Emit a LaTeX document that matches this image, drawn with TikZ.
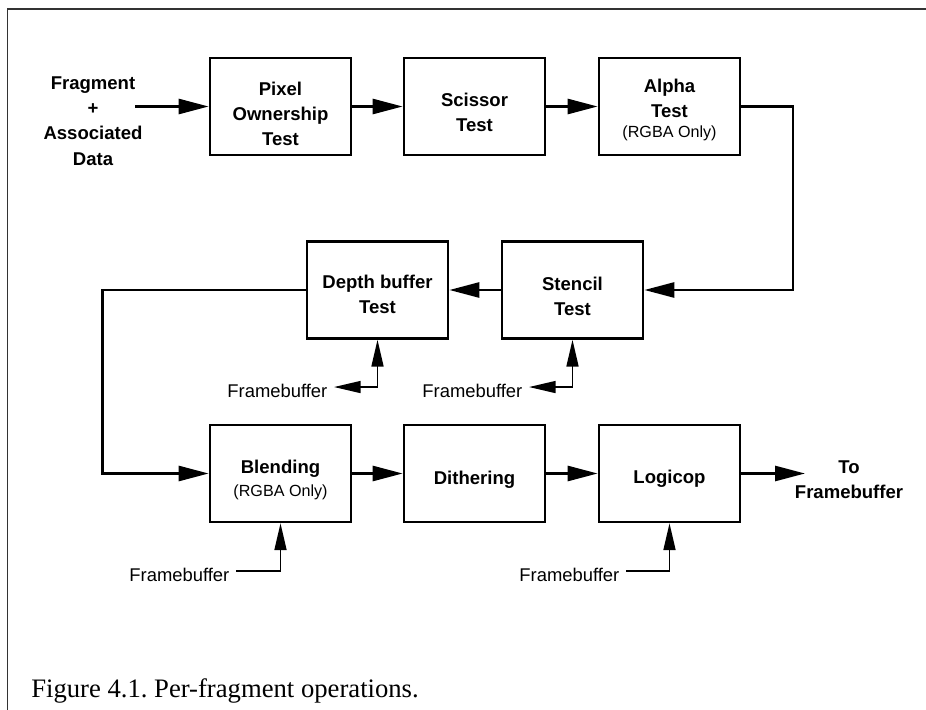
\documentclass[tikz,border=0pt]{standalone}
\usepackage{fontspec}
\setmainfont{Liberation Serif}
\newfontfamily\hv{Liberation Sans}
\usetikzlibrary{arrows.meta}
\frenchspacing
\begin{document}
\begin{tikzpicture}[x=0.75pt,y=-0.75pt,
  box/.style={draw, line width=2pt, minimum width=105.75pt, minimum height=72.75pt, inner sep=0pt},
  btxt/.style={font=\hv\bfseries\fontsize{13.9}{18.75}\selectfont, align=center, inner sep=0pt},
  fbl/.style={font=\hv\fontsize{13.8}{16}\selectfont, inner sep=0pt, outer sep=5pt, anchor=east},
  conn/.style={line width=2pt, -{Triangle[length=22.5pt,width=11.25pt]}},
  feed/.style={line width=1.1pt},
  ftip/.style={feed, -{Triangle[length=20pt,width=9pt]}},
  fboth/.style={feed, {Triangle[length=20pt,width=9pt]}-{Triangle[length=20pt,width=9pt]}},
  frame/.style={line width=1.2pt, black!80}
]
\fill[white] (0,0) rectangle (926,710);
\useasboundingbox (0,0) rectangle (926,710);
\newcommand{\rgba}{{\mdseries\fontsize{12.1}{14}\selectfont (RGBA Only)}}

% frame
\draw[frame] (7.5,710) -- (7.5,9) -- (926,9);

% row 1
\node[box] (pix) at (280.5,106.5) {};
\node[box] (sci) at (474.5,106.5) {};
\node[box] (alp) at (669.5,106.5) {};
\node[btxt] (pixt) at (280.5,114) {Pixel\\Ownership\\Test};
\node[btxt] (scit) at (474.5,112.5) {Scissor\\Test};
\node[btxt] (alpt) at (669.5,110) {Alpha\\Test\\[-3.4pt]\rgba};

% row 2
\node[box] (dep) at (377.5,290) {};
\node[box] (ste) at (572.5,290) {};
\node[btxt] (dept) at (377.5,294) {Depth buffer\\Test};
\node[btxt] (stet) at (572.5,296) {Stencil\\Test};

% row 3
\node[box] (ble) at (280.5,473.5) {};
\node[box] (dit) at (474.5,473.5) {};
\node[box] (log) at (669.5,473.5) {};
\node[btxt] (blet) at (280.5,480) {Blending\\[-1.1pt]\rgba};
\node[btxt] (ditt) at (474.5,480) {Dithering};
\node[btxt] (logt) at (669.5,479) {Logicop};

% input / output texts
\node[btxt, font=\hv\bfseries\fontsize{13.9}{19}\selectfont] (frag) at (93,121) {Fragment\\+\\Associated\\Data};
\node[btxt] (tofb) at (849,480) {To\\Framebuffer};

% framebuffer labels
\node[fbl] (fb1) at (334,390.5) {Framebuffer};
\node[fbl] (fb2) at (529,390.5) {Framebuffer};
\node[fbl] (fb3) at (236,574.5) {Framebuffer};
\node[fbl] (fb4) at (626,574.5) {Framebuffer};

% coordinates
\coordinate (fin) at (135,106.5);
\coordinate (r1) at (793,106.5);
\coordinate (l1) at (102.5,290);
\coordinate (fout) at (805,473.5);

% connectors
\draw[conn] (fin) -- (pix.west);
\draw[conn] (pix.east) -- (sci.west);
\draw[conn] (sci.east) -- (alp.west);
\draw[conn] (alp.east) -- (r1) |- (ste.east);
\draw[conn] (ste.west) -- (dep.east);
\draw[conn] (dep.west) -- (l1) |- (ble.west);
\draw[conn] (ble.east) -- (dit.west);
\draw[conn] (dit.east) -- (log.west);
\draw[conn] (log.east) -- (fout);

% framebuffer feeds
\draw[fboth] ([yshift=2.6pt]fb1.east) -| (dep.south);
\draw[fboth] ([yshift=2.6pt]fb2.east) -| (ste.south);
\draw[ftip] ([yshift=2.5pt]fb3.east) -| (ble.south);
\draw[ftip] ([yshift=2.5pt]fb4.east) -| (log.south);

% caption
\node[anchor=base west, inner sep=0pt, font=\fontsize{20}{24}\selectfont] (cap) at (31,697) {Figure 4.1. Per-fragment operations.};
\end{tikzpicture}
\end{document}
